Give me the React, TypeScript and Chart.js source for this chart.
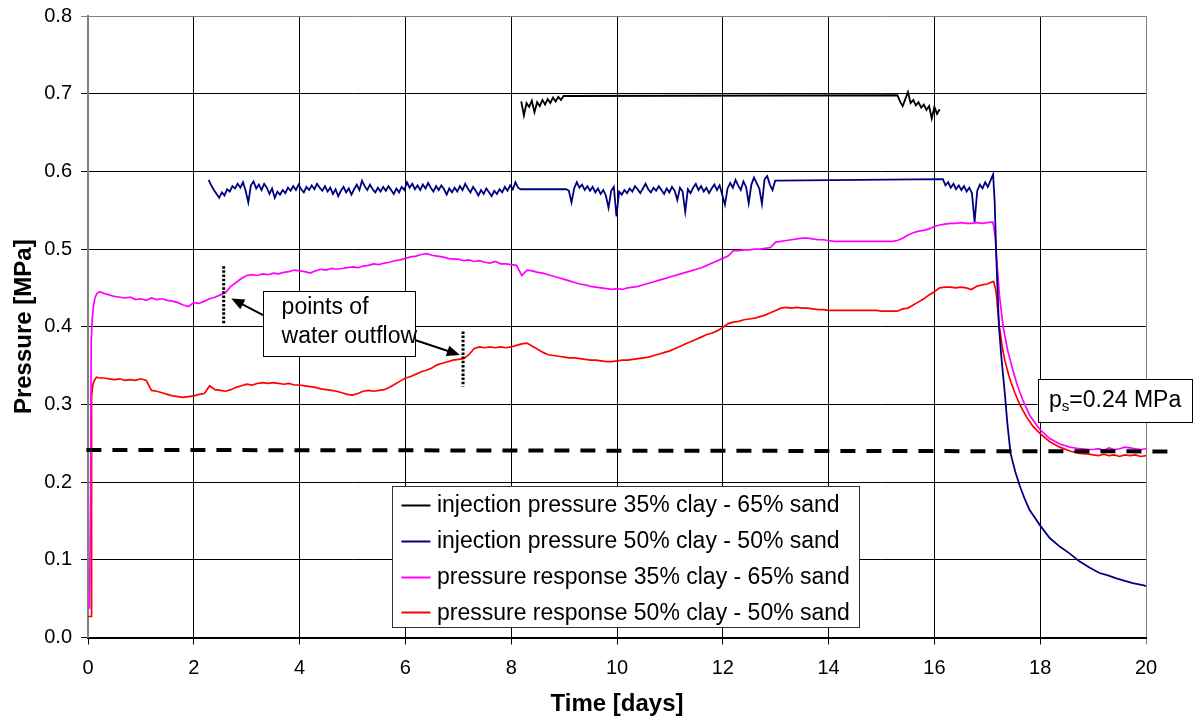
import React, { useEffect, useRef } from "react";
import { Chart, registerables } from "chart.js";

Chart.register(...registerables);

const FAMILY = "'Liberation Sans', Arial, Helvetica, sans-serif";

// ---------- labels / styling of series ----------
const seriesLabels = [
  "injection pressure 35% clay - 65% sand",
  "injection pressure 50% clay - 50% sand",
  "pressure response 35% clay - 65% sand",
  "pressure response 50% clay - 50% sand",
];
const seriesColors = ["#000000", "#000080", "#FF00FF", "#FF0000"];
const seriesWidths = [1.8, 1.8, 1.7, 1.7];
const xTickStep = 2;
const yTickStep = 0.1;
const saturationPressure = 0.24;
const outflowDays = [2.565, 7.09];

// ---------- black: injection pressure 35% clay ----------
const blackSeg1Start = 8.19;
const blackSeg1 = [0.690, 0.672, 0.688, 0.683, 0.691, 0.676, 0.689, 0.684, 0.692, 0.686, 0.693, 0.688, 0.695, 0.690, 0.696, 0.692, 0.697, 0.697];
const blackSeg2Start = 15.3;
const blackSeg2 = [0.698, 0.690, 0.684, 0.693, 0.702, 0.688, 0.692, 0.685, 0.689, 0.682, 0.686, 0.679, 0.684, 0.668, 0.683, 0.674, 0.680];

// ---------- blue: injection pressure 50% clay ----------
const blueSeg1Start = 2.28;
const blueSeg1 = [
  0.589, 0.582, 0.576, 0.571, 0.566, 0.573, 0.569, 0.577, 0.574, 0.581,
  0.578, 0.584, 0.579, 0.586, 0.575, 0.560, 0.582, 0.587, 0.578, 0.583,
  0.576, 0.584, 0.579, 0.571, 0.578, 0.566, 0.574, 0.570, 0.576, 0.572,
  0.579, 0.575, 0.581, 0.576, 0.583, 0.577, 0.573, 0.580, 0.576, 0.582,
  0.577, 0.584, 0.579, 0.575, 0.581, 0.574, 0.579, 0.571, 0.577, 0.568,
  0.575, 0.580, 0.573, 0.578, 0.570, 0.577, 0.583, 0.576, 0.588, 0.581,
  0.576, 0.583, 0.577, 0.573, 0.579, 0.574, 0.580, 0.575, 0.581, 0.576,
  0.571, 0.578, 0.573, 0.580, 0.576, 0.586, 0.579, 0.584, 0.577, 0.582,
  0.576, 0.583, 0.578, 0.585, 0.579, 0.574, 0.581, 0.576, 0.582, 0.577,
  0.570, 0.578, 0.573, 0.579, 0.574, 0.581, 0.576, 0.584, 0.578, 0.573,
  0.580, 0.575, 0.569, 0.576, 0.571, 0.578, 0.573, 0.568, 0.575, 0.571,
  0.577, 0.573, 0.580, 0.575, 0.582, 0.577, 0.586, 0.579, 0.577,
];
const blueSeg2Start = 9.04;
const blueSeg2 = [
  0.577, 0.575, 0.560, 0.578, 0.586, 0.579, 0.583, 0.576, 0.581, 0.575,
  0.580, 0.573, 0.578, 0.571, 0.576, 0.569, 0.553, 0.575, 0.580, 0.542,
  0.574, 0.570, 0.576, 0.572, 0.578, 0.574, 0.581, 0.577, 0.572, 0.578,
  0.584, 0.577, 0.573, 0.579, 0.575, 0.581, 0.576, 0.571, 0.578, 0.573,
  0.580, 0.575, 0.563, 0.579, 0.574, 0.548, 0.577, 0.572, 0.579, 0.584,
  0.576, 0.581, 0.574, 0.579, 0.572, 0.578, 0.583, 0.576, 0.582, 0.570,
  0.557, 0.578, 0.585, 0.579, 0.589, 0.582, 0.576, 0.587, 0.580, 0.559,
  0.583, 0.592, 0.585, 0.578, 0.558, 0.590, 0.594, 0.583, 0.576, 0.588,
];
const blueSeg3Start = 16.16;
const blueSeg3 = [0.590, 0.582, 0.586, 0.579, 0.584, 0.577, 0.582, 0.576, 0.581, 0.574, 0.579, 0.572, 0.535, 0.575, 0.583, 0.578, 0.586, 0.580, 0.588, 0.596];
const blueDropDays = [17.14, 17.17, 17.22, 17.27, 17.33, 17.38, 17.44, 17.53, 17.62, 17.71, 17.80, 17.90, 17.99, 18.18, 18.37, 18.56, 18.74, 18.93, 19.12, 19.28, 19.44, 19.60, 19.75, 19.96, 20.0];
const blueDropP = [0.560, 0.490, 0.400, 0.358, 0.315, 0.275, 0.237, 0.213, 0.194, 0.178, 0.164, 0.154, 0.145, 0.128, 0.117, 0.108, 0.098, 0.090, 0.083, 0.080, 0.076, 0.073, 0.070, 0.067, 0.066];

// ---------- magenta: pressure response 35% clay ----------
const pinkStartDays = [0, 0.03, 0.05, 0.06, 0.08, 0.10, 0.13, 0.17, 0.22];
const pinkStartP = [0.038, 0.038, 0.200, 0.380, 0.410, 0.425, 0.437, 0.443, 0.445];
const pinkMainStart = 0.3;
const pinkMain = [
  0.443, 0.441, 0.439, 0.438, 0.437, 0.438, 0.435, 0.436, 0.434, 0.437,
  0.435, 0.436, 0.434, 0.433, 0.431, 0.428, 0.426, 0.431, 0.430, 0.433,
  0.436, 0.438, 0.441, 0.444, 0.452, 0.457, 0.462, 0.466, 0.467, 0.466,
  0.468, 0.467, 0.469, 0.468, 0.470, 0.471, 0.473, 0.472, 0.471, 0.469,
  0.472, 0.474, 0.473, 0.475, 0.474, 0.475, 0.476, 0.477, 0.476, 0.478,
  0.479, 0.481, 0.480, 0.482, 0.483, 0.485, 0.486, 0.488, 0.490, 0.491,
  0.493, 0.494, 0.492, 0.491, 0.490, 0.488, 0.487, 0.487, 0.485, 0.486,
  0.484, 0.485, 0.483, 0.482, 0.484, 0.481, 0.481, 0.480, 0.479, 0.466,
  0.473, 0.472, 0.470, 0.469, 0.467, 0.465, 0.463, 0.461, 0.459, 0.457,
  0.455, 0.454, 0.452, 0.451, 0.450, 0.449, 0.448, 0.449, 0.448, 0.450,
  0.451, 0.452, 0.454, 0.456, 0.458, 0.460, 0.462, 0.464, 0.466, 0.468,
  0.470, 0.472, 0.474, 0.476, 0.479, 0.482, 0.485, 0.488, 0.491, 0.498,
  0.498, 0.499, 0.499, 0.500, 0.500, 0.501, 0.502, 0.509, 0.510, 0.511,
  0.512, 0.513, 0.514, 0.514, 0.513, 0.512, 0.512, 0.511, 0.510, 0.510,
  0.510, 0.510, 0.510, 0.510, 0.510, 0.510, 0.510, 0.510, 0.510, 0.510,
  0.511, 0.514, 0.518, 0.521, 0.523, 0.524, 0.526, 0.529, 0.531, 0.532,
  0.533, 0.533, 0.534, 0.533, 0.533, 0.534, 0.533, 0.534, 0.535,
];
const pinkDropDays = [17.12, 17.15, 17.18, 17.23, 17.30, 17.39, 17.48, 17.57, 17.67, 17.80, 17.99, 18.18, 18.37, 18.56, 18.74, 18.93];
const pinkDropP = [0.530, 0.515, 0.485, 0.440, 0.400, 0.368, 0.345, 0.324, 0.306, 0.286, 0.268, 0.256, 0.249, 0.245, 0.243, 0.242];
const pinkTailStart = 19.0;
const pinkTail = [0.242, 0.243, 0.241, 0.244, 0.242, 0.243, 0.245, 0.244, 0.243, 0.242, 0.243];

// ---------- red: pressure response 50% clay ----------
const redStartDays = [0, 0.06, 0.065, 0.07, 0.09, 0.12, 0.16, 0.22];
const redStartP = [0.027, 0.027, 0.200, 0.310, 0.325, 0.331, 0.335, 0.334];
const redMainStart = 0.3;
const redMain = [
  0.334, 0.333, 0.332, 0.333, 0.331, 0.332, 0.331, 0.333, 0.331, 0.318,
  0.317, 0.315, 0.313, 0.311, 0.310, 0.309, 0.310, 0.311, 0.313, 0.314,
  0.324, 0.319, 0.318, 0.317, 0.319, 0.322, 0.324, 0.326, 0.325, 0.327,
  0.328, 0.327, 0.328, 0.327, 0.326, 0.327, 0.325, 0.325, 0.324, 0.323,
  0.322, 0.320, 0.319, 0.318, 0.317, 0.315, 0.313, 0.312, 0.314, 0.317,
  0.318, 0.317, 0.318, 0.319, 0.322, 0.326, 0.330, 0.334, 0.336, 0.339,
  0.342, 0.344, 0.347, 0.351, 0.353, 0.355, 0.357, 0.358, 0.359, 0.364,
  0.372, 0.374, 0.373, 0.374, 0.373, 0.374, 0.373, 0.374, 0.376, 0.378,
  0.379, 0.375, 0.371, 0.367, 0.364, 0.363, 0.362, 0.361, 0.360, 0.360,
  0.359, 0.358, 0.357, 0.357, 0.356, 0.355, 0.355, 0.356, 0.357, 0.357,
  0.358, 0.359, 0.360, 0.361, 0.363, 0.365, 0.367, 0.369, 0.372, 0.375,
  0.378, 0.381, 0.384, 0.387, 0.390, 0.392, 0.395, 0.399, 0.404, 0.406,
  0.407, 0.409, 0.410, 0.411, 0.413, 0.415, 0.418, 0.421, 0.424, 0.425,
  0.424, 0.425, 0.424, 0.424, 0.423, 0.422, 0.422, 0.421, 0.421, 0.421,
  0.421, 0.421, 0.421, 0.421, 0.421, 0.421, 0.421, 0.420, 0.420, 0.420,
  0.420, 0.423, 0.424, 0.428, 0.432, 0.436, 0.441, 0.445, 0.450, 0.451,
  0.451, 0.450, 0.451, 0.450, 0.448, 0.452, 0.454, 0.455, 0.458,
];
const redDropDays = [17.12, 17.15, 17.17, 17.20, 17.23, 17.28, 17.33, 17.42, 17.52, 17.62, 17.74, 17.86, 17.99, 18.18, 18.37, 18.56, 18.74, 18.93];
const redDropP = [0.458, 0.450, 0.443, 0.420, 0.400, 0.375, 0.357, 0.334, 0.315, 0.299, 0.284, 0.272, 0.263, 0.252, 0.245, 0.240, 0.237, 0.236];
const redTailStart = 19.0;
const redTail = [0.235, 0.234, 0.236, 0.234, 0.235, 0.233, 0.235, 0.234, 0.235, 0.233, 0.234];

// ---------- helpers to build {x,y} lists ----------
function seg(start: number, step: number, values: number[]) {
  return values.map((v, i) => ({ x: Math.round((start + i * step) * 1000) / 1000, y: v }));
}
function pairs(days: number[], values: number[]) {
  return days.map((d, i) => ({ x: d, y: values[i] }));
}

const blackData = [...seg(blackSeg1Start, 0.05, blackSeg1), ...seg(blackSeg2Start, 0.05, blackSeg2)];
const blueData = [
  ...seg(blueSeg1Start, 0.05, blueSeg1),
  ...seg(blueSeg2Start, 0.05, blueSeg2),
  ...seg(blueSeg3Start, 0.05, blueSeg3),
  ...pairs(blueDropDays, blueDropP),
];
const pinkData = [
  ...pairs(pinkStartDays, pinkStartP),
  ...seg(pinkMainStart, 0.1, pinkMain),
  ...pairs(pinkDropDays, pinkDropP),
  ...seg(pinkTailStart, 0.1, pinkTail),
];
const redData = [
  ...pairs(redStartDays, redStartP),
  ...seg(redMainStart, 0.1, redMain),
  ...pairs(redDropDays, redDropP),
  ...seg(redTailStart, 0.1, redTail),
];

function drawArrow(ctx: CanvasRenderingContext2D, x1: number, y1: number, x2: number, y2: number) {
  const a = Math.atan2(y2 - y1, x2 - x1);
  const L = 13;
  const W = 5.5;
  ctx.beginPath();
  ctx.moveTo(x1, y1);
  ctx.lineTo(x2 - (L - 2) * Math.cos(a), y2 - (L - 2) * Math.sin(a));
  ctx.stroke();
  ctx.beginPath();
  ctx.moveTo(x2, y2);
  ctx.lineTo(x2 - L * Math.cos(a) + W * Math.sin(a), y2 - L * Math.sin(a) - W * Math.cos(a));
  ctx.lineTo(x2 - L * Math.cos(a) - W * Math.sin(a), y2 - L * Math.sin(a) + W * Math.cos(a));
  ctx.closePath();
  ctx.fill();
}

const overlayPlugin = {
  id: "overlay",
  afterDatasetsDraw(chart: any) {
    const ctx: CanvasRenderingContext2D = chart.ctx;
    const xs = chart.scales.x;
    const ys = chart.scales.y;
    const X = (v: number) => xs.getPixelForValue(v);
    const Y = (v: number) => ys.getPixelForValue(v);
    ctx.save();

    // saturation pressure dashed line (extends a little past the plot)
    ctx.beginPath();
    ctx.setLineDash([15, 11]);
    ctx.lineWidth = 4;
    ctx.strokeStyle = "#000";
    ctx.moveTo(X(-0.03), Y(saturationPressure + 0.0015));
    ctx.lineTo(X(20.55), Y(saturationPressure - 0.0005));
    ctx.stroke();

    // dotted markers at water outflow
    ctx.setLineDash([2.5, 1.7]);
    ctx.lineWidth = 3;
    ctx.beginPath();
    ctx.moveTo(X(outflowDays[0]), Y(0.478));
    ctx.lineTo(X(outflowDays[0]), Y(0.4045));
    ctx.moveTo(X(outflowDays[1]), Y(0.394));
    ctx.lineTo(X(outflowDays[1]), Y(0.323));
    ctx.stroke();
    ctx.setLineDash([]);

    // arrows
    ctx.lineWidth = 2;
    ctx.fillStyle = "#000";
    drawArrow(ctx, X(3.31), Y(0.415), X(2.71), Y(0.4365));
    drawArrow(ctx, X(6.18), Y(0.383), X(7.03), Y(0.3636));

    // "points of water outflow" box
    const bl = X(3.31), bt = Y(0.446), br = X(6.18), bb = Y(0.362);
    ctx.fillStyle = "#fff";
    ctx.fillRect(bl, bt, br - bl, bb - bt);
    ctx.lineWidth = 1;
    ctx.strokeStyle = "#000";
    ctx.strokeRect(Math.round(bl) + 0.5, Math.round(bt) + 0.5, Math.round(br - bl), Math.round(bb - bt));
    ctx.fillStyle = "#000";
    ctx.font = `23px ${FAMILY}`;
    ctx.textBaseline = "alphabetic";
    ctx.textAlign = "left";
    ctx.fillText("points of", bl + 18.5, bt + 23);
    ctx.fillText("water outflow", bl + 18.5, bt + 51.5);

    // saturation pressure label box
    const pl = X(17.95), pt = Y(0.3327), pr = X(20.86), pb = Y(0.2777);
    ctx.fillStyle = "#fff";
    ctx.fillRect(pl, pt, pr - pl, pb - pt);
    ctx.strokeRect(Math.round(pl) + 0.5, Math.round(pt) + 0.5, Math.round(pr - pl), Math.round(pb - pt));
    ctx.fillStyle = "#000";
    let tx = pl + 11.5;
    const base = pt + 27.5;
    ctx.font = `23px ${FAMILY}`;
    ctx.fillText("p", tx, base);
    tx += ctx.measureText("p").width;
    ctx.font = `15px ${FAMILY}`;
    ctx.fillText("s", tx, base + 4);
    tx += ctx.measureText("s").width;
    ctx.font = `23px ${FAMILY}`;
    ctx.fillText(`=${saturationPressure.toFixed(2)} MPa`, tx, base);

    // legend
    const ll = X(5.755), lt = Y(0.195), lr = X(14.59), lb = Y(0.0131);
    ctx.fillStyle = "#fff";
    ctx.fillRect(ll, lt, lr - ll, lb - lt);
    ctx.strokeStyle = "#333";
    ctx.strokeRect(Math.round(ll) + 0.5, Math.round(lt) + 0.5, Math.round(lr - ll), Math.round(lb - lt));
    ctx.textBaseline = "middle";
    ctx.font = `23px ${FAMILY}`;
    chart.data.datasets.forEach((ds: any, i: number) => {
      const cy = lt + 19 + i * 35.8;
      ctx.strokeStyle = ds.borderColor;
      ctx.lineWidth = 2;
      ctx.beginPath();
      ctx.moveTo(ll + 9, Math.round(cy) + 0.5);
      ctx.lineTo(ll + 38, Math.round(cy) + 0.5);
      ctx.stroke();
      ctx.fillStyle = "#000";
      ctx.fillText(ds.label, ll + 44.5, cy + 1);
    });

    ctx.restore();
  },
};

export default function App() {
  const ref = useRef<HTMLCanvasElement>(null);
  useEffect(() => {
    if (!ref.current) return;
    Chart.defaults.font.family = FAMILY;
    const datasetsData = [blackData, blueData, pinkData, redData];
    const chart = new Chart(ref.current, {
      type: "line",
      data: {
        datasets: datasetsData.map((d, i) => ({
          label: seriesLabels[i],
          data: d,
          borderColor: seriesColors[i],
          backgroundColor: seriesColors[i],
          borderWidth: seriesWidths[i],
          pointRadius: 0,
          tension: 0,
          fill: false,
        })),
      },
      options: {
        animation: false,
        responsive: false,
        devicePixelRatio: 1,
        layout: { padding: { top: 16, right: 50, bottom: 0, left: 0 } },
        plugins: { legend: { display: false }, tooltip: { enabled: false } },
        scales: {
          x: {
            type: "linear",
            min: 0,
            max: 20,
            afterFit: (s: any) => {
              s.height = 83.5;
              s.paddingLeft = 0;
              s.paddingRight = 0;
              s.paddingTop = 0;
              s.paddingBottom = 0;
            },
            ticks: {
              stepSize: xTickStep,
              padding: 12,
              color: "#000",
              maxRotation: 0,
              autoSkip: false,
              font: { size: 20, family: FAMILY },
            },
            grid: {
              color: (c: any) => (c.tick && Math.abs(c.tick.value - 20) < 1e-6 ? "#808080" : "#000"),
              lineWidth: 1,
              tickLength: 7,
            },
            border: { color: "#000", width: 2 },
            title: {
              display: true,
              text: "Time [days]",
              color: "#000",
              font: { size: 24, weight: "bold", family: FAMILY },
              padding: { top: 0, bottom: 2 },
            },
          },
          y: {
            type: "linear",
            min: 0,
            max: 0.8,
            afterFit: (s: any) => {
              s.width = 88;
              s.paddingLeft = 0;
              s.paddingRight = 0;
              s.paddingTop = 0;
              s.paddingBottom = 0;
            },
            ticks: {
              stepSize: yTickStep,
              padding: 9,
              color: "#000",
              font: { size: 20, family: FAMILY },
              callback: (v: any) => Number(v).toFixed(1),
            },
            grid: {
              color: (c: any) => (c.tick && Math.abs(c.tick.value - 0.8) < 1e-6 ? "#808080" : "#000"),
              lineWidth: 1,
              tickLength: 7,
            },
            border: { color: "#808080", width: 2 },
            title: {
              display: true,
              text: "Pressure [MPa]",
              color: "#000",
              font: { size: 24, weight: "bold", family: FAMILY },
              padding: { top: 10, bottom: 0 },
            },
          },
        },
      },
      plugins: [overlayPlugin],
    } as any);
    return () => chart.destroy();
  }, []);
  return (
    <div style={{ position: "absolute", left: 0, top: 0, width: 1196, height: 721, background: "#fff" }}>
      <canvas ref={ref} width={1196} height={721} style={{ display: "block", width: 1196, height: 721 }} />
    </div>
  );
}
